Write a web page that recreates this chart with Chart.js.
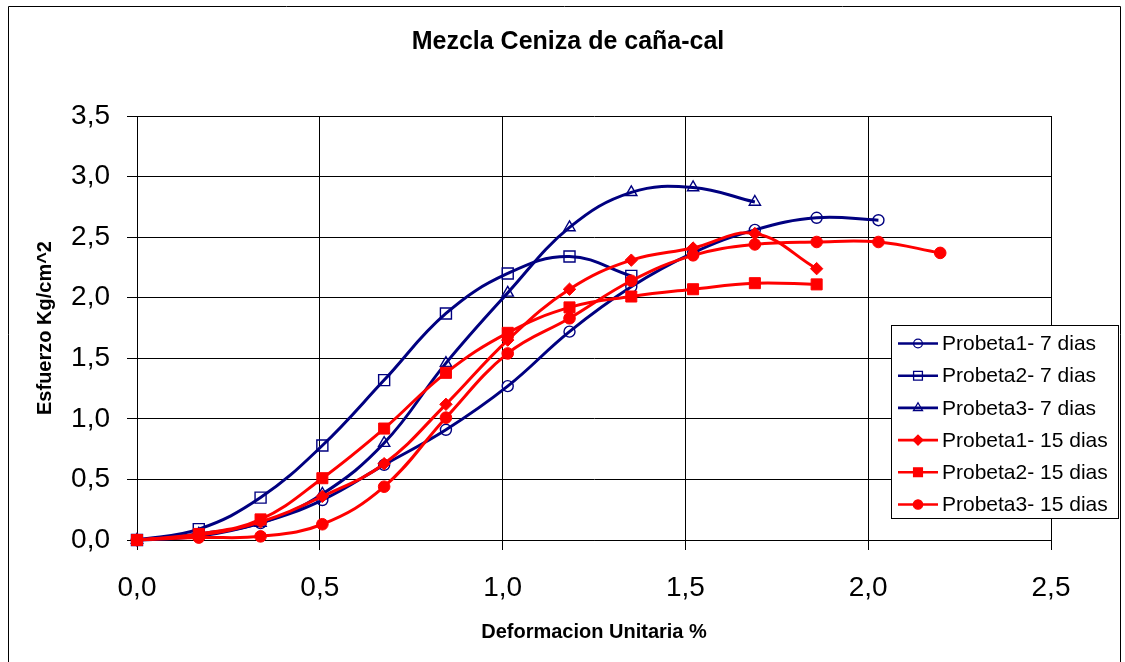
<!DOCTYPE html>
<html>
<head>
<meta charset="utf-8">
<script src="https://cdn.jsdelivr.net/npm/chart.js@4/dist/chart.umd.min.js"></script>
<style>
html,body{margin:0;padding:0;background:#fff;}
#wrap{width:1125px;height:662px;position:relative;}
</style>
</head>
<body>
<div id="wrap"><canvas id="c" width="1125" height="662"></canvas></div>
<script>
const chartTitle = 'Mezcla Ceniza de caña-cal';
const xTitle = 'Deformacion Unitaria %';
const yTitle = 'Esfuerzo Kg/cm^2';
const xTickLabels = ['0,0','0,5','1,0','1,5','2,0','2,5'];
const yTickLabels = ['0,0','0,5','1,0','1,5','2,0','2,5','3,0','3,5'];
const seriesNames = ['Probeta1- 7 dias','Probeta2- 7 dias','Probeta3- 7 dias','Probeta1- 15 dias','Probeta2- 15 dias','Probeta3- 15 dias'];
const strain = [0, 0.169, 0.338, 0.507, 0.676, 0.845, 1.014, 1.183, 1.352, 1.521, 1.690, 1.859, 2.028, 2.197];
const p1d7  = [0, 0.03, 0.14, 0.33, 0.62, 0.91, 1.27, 1.72, 2.09, 2.37, 2.56, 2.66, 2.64];
const p2d7  = [0, 0.09, 0.35, 0.78, 1.32, 1.87, 2.20, 2.34, 2.18];
const p3d7  = [0, 0.05, 0.14, 0.38, 0.80, 1.46, 2.04, 2.58, 2.87, 2.91, 2.79];
const p1d15 = [0, 0.04, 0.15, 0.36, 0.63, 1.12, 1.65, 2.07, 2.31, 2.41, 2.53, 2.24];
const p2d15 = [0, 0.05, 0.17, 0.51, 0.92, 1.38, 1.71, 1.92, 2.01, 2.07, 2.12, 2.11];
const p3d15 = [0, 0.02, 0.03, 0.13, 0.44, 1.01, 1.54, 1.83, 2.14, 2.35, 2.44, 2.46, 2.46, 2.37];

const FONT = "'Liberation Sans', Arial, sans-serif";
const NAVY = '#000080', RED = '#FF0000';

function pts(arr){ return arr.map((v,i)=>({x: strain[i], y: v})); }
function ds(label, arr, color, style, radius, filled, order){
  return {
    label, data: pts(arr), borderColor: color, borderWidth: 3,
    pointStyle: style, pointRadius: radius, pointHoverRadius: radius,
    pointBorderColor: color, pointBorderWidth: filled ? 1 : 1.4,
    pointBackgroundColor: filled ? color : 'rgba(0,0,0,0)',
    tension: 0.4, fill: false, clip: false, order
  };
}
const datasets = [
  ds(seriesNames[0], p1d7, NAVY, 'circle', 5.5, false, 1),
  ds(seriesNames[1], p2d7, NAVY, 'rect', 7.8, false, 1),
  ds(seriesNames[2], p3d7, NAVY, 'triangle', 6.5, false, 1),
  ds(seriesNames[3], p1d15, RED, 'rectRot', 6.2, true, 0),
  ds(seriesNames[4], p2d15, RED, 'rect', 7.8, true, 0),
  ds(seriesNames[5], p3d15, RED, 'circle', 5.8, true, 0)
];

function marker(ctx, style, x, y, r, color, filled){
  ctx.save();
  ctx.beginPath();
  if(style==='circle'){ ctx.arc(x,y,r,0,Math.PI*2); }
  else if(style==='rect'){ const s=Math.SQRT1_2*r; ctx.rect(x-s,y-s,2*s,2*s); }
  else if(style==='triangle'){
    for(let k=0;k<3;k++){ const a=k*2*Math.PI/3; const px=x+Math.sin(a)*r, py=y-Math.cos(a)*r; k?ctx.lineTo(px,py):ctx.moveTo(px,py);} ctx.closePath();
  }
  else if(style==='rectRot'){ ctx.moveTo(x,y-r); ctx.lineTo(x+r,y); ctx.lineTo(x,y+r); ctx.lineTo(x-r,y); ctx.closePath(); }
  if(filled){ ctx.fillStyle=color; ctx.fill(); }
  ctx.strokeStyle=color; ctx.lineWidth=1.3; ctx.stroke();
  ctx.restore();
}

const decor = {
  id: 'decor',
  beforeDraw(chart){
    const ctx = chart.ctx;
    ctx.save();
    ctx.fillStyle='#fff'; ctx.fillRect(0,0,chart.width,chart.height);
    ctx.strokeStyle='#000'; ctx.lineWidth=1;
    ctx.beginPath();
    ctx.moveTo(8.5, 662); ctx.lineTo(8.5, 6.5); ctx.lineTo(1120.5, 6.5); ctx.lineTo(1120.5, 662);
    ctx.stroke();
    ctx.fillStyle='#000'; ctx.font = "bold 25px " + FONT;
    ctx.textAlign='center'; ctx.textBaseline='middle';
    ctx.fillText(chartTitle, 568, 42);
    ctx.restore();
  },
  afterDraw(chart){
    const ctx = chart.ctx;
    ctx.save();
    const bx=891.5, by=325.5, bw=227, bh=193;
    ctx.fillStyle='#fff'; ctx.fillRect(bx,by,bw,bh);
    ctx.strokeStyle='#000'; ctx.lineWidth=1; ctx.strokeRect(bx,by,bw,bh);
    ctx.font = "21px " + FONT; ctx.textAlign='left'; ctx.textBaseline='middle';
    chart.data.datasets.forEach((d,i)=>{
      const y = 343.5 + i*32.2;
      ctx.strokeStyle=d.borderColor; ctx.lineWidth=2.6;
      ctx.beginPath(); ctx.moveTo(898,y); ctx.lineTo(938,y); ctx.stroke();
      const filled = d.pointBackgroundColor !== 'rgba(0,0,0,0)';
      marker(ctx, d.pointStyle, 918, y, d.pointRadius*0.8, d.borderColor, filled);
      ctx.fillStyle='#000';
      ctx.fillText(d.label, 942, y+1);
    });
    ctx.restore();
  }
};

new Chart(document.getElementById('c'), {
  type: 'line',
  data: { datasets },
  plugins: [decor],
  options: {
    responsive: false, animation: false, devicePixelRatio: 1,
    layout: { padding: { top: 116, right: 74, bottom: 0, left: 0 } },
    plugins: { legend: { display: false }, title: { display: false }, tooltip: { enabled: false } },
    scales: {
      x: {
        type: 'linear', min: 0, max: 2.5,
        afterFit(s){ s.height = 122; },
        ticks: { stepSize: 0.5, padding: 21, color: '#000', font: { family: FONT, size: 28 },
          callback: (v, i) => xTickLabels[i] },
        grid: { color: '#000', lineWidth: 1, tickLength: 10, drawTicks: true },
        border: { display: true, color: '#000', width: 1 },
        title: { display: true, text: xTitle, color: '#000', font: { family: FONT, size: 20, weight: 'bold' }, padding: { top: 0, bottom: 18 } }
      },
      y: {
        type: 'linear', min: 0, max: 3.5,
        afterFit(s){ s.width = 137; },
        ticks: { stepSize: 0.5, padding: 17, color: '#000', font: { family: FONT, size: 28 },
          callback: (v, i) => yTickLabels[i] },
        grid: { color: '#000', lineWidth: 1, tickLength: 10, drawTicks: true },
        border: { display: true, color: '#000', width: 1 },
        title: { display: true, text: yTitle, color: '#000', font: { family: FONT, size: 20, weight: 'bold' }, padding: { top: 33, bottom: 0 } }
      }
    }
  }
});
</script>
</body>
</html>
